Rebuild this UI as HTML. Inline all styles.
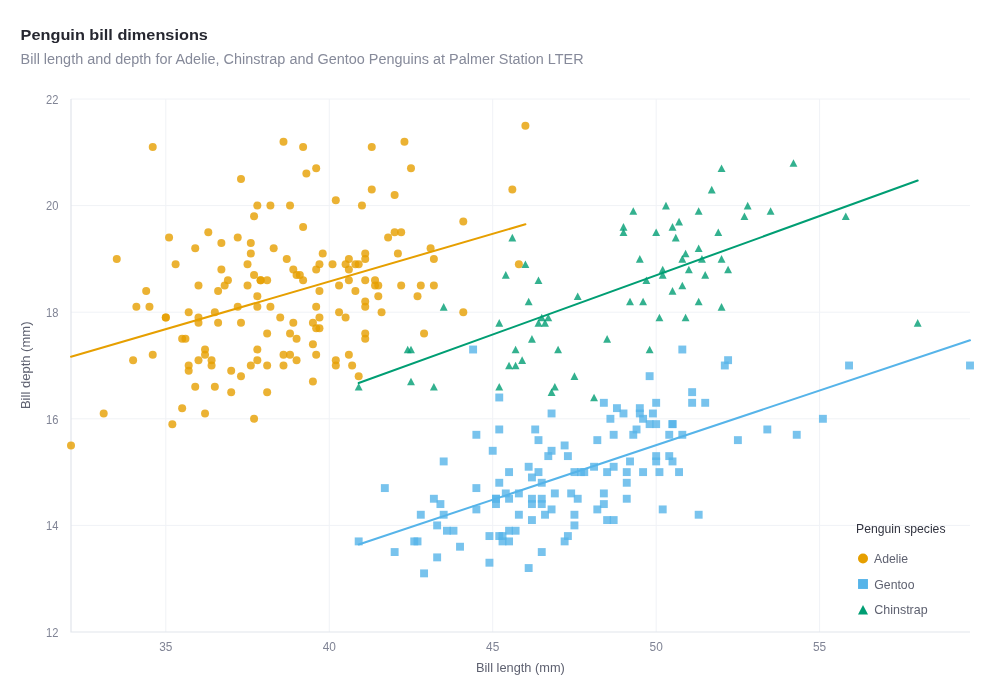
<!DOCTYPE html>
<html lang="en"><head><meta charset="utf-8"><title>Penguin bill dimensions</title>
<style>html,body{margin:0;padding:0;background:#fff}svg{display:block}</style></head>
<body>
<svg width="990" height="696" viewBox="0 0 990 696">
<rect width="990" height="696" fill="#ffffff"/>
<path d="M165.8 99.0V632.0M329.26 99.0V632.0M492.71 99.0V632.0M656.17 99.0V632.0M819.62 99.0V632.0M71.0 525.4H970.0M71.0 418.8H970.0M71.0 312.2H970.0M71.0 205.6H970.0M71.0 99H970.0" stroke="#f0f2f6" stroke-width="1" fill="none"/>
<path d="M71.0 99.0V632.0H970.0" stroke="#e2e5ec" stroke-width="1.2" fill="none"/>
<g font-family="Liberation Sans, sans-serif" font-size="12" fill="#808495">
<text x="58.4" y="636.8" text-anchor="end" textLength="12.4" lengthAdjust="spacingAndGlyphs">12</text>
<text x="58.4" y="530.2" text-anchor="end" textLength="12.4" lengthAdjust="spacingAndGlyphs">14</text>
<text x="58.4" y="423.6" text-anchor="end" textLength="12.4" lengthAdjust="spacingAndGlyphs">16</text>
<text x="58.4" y="317" text-anchor="end" textLength="12.4" lengthAdjust="spacingAndGlyphs">18</text>
<text x="58.4" y="210.4" text-anchor="end" textLength="12.4" lengthAdjust="spacingAndGlyphs">20</text>
<text x="58.4" y="103.8" text-anchor="end" textLength="12.4" lengthAdjust="spacingAndGlyphs">22</text>
<text x="165.8" y="650.5" text-anchor="middle" textLength="13.2" lengthAdjust="spacingAndGlyphs">35</text>
<text x="329.26" y="650.5" text-anchor="middle" textLength="13.2" lengthAdjust="spacingAndGlyphs">40</text>
<text x="492.71" y="650.5" text-anchor="middle" textLength="13.2" lengthAdjust="spacingAndGlyphs">45</text>
<text x="656.17" y="650.5" text-anchor="middle" textLength="13.2" lengthAdjust="spacingAndGlyphs">50</text>
<text x="819.62" y="650.5" text-anchor="middle" textLength="13.2" lengthAdjust="spacingAndGlyphs">55</text>
</g>
<g font-family="Liberation Sans, sans-serif" font-size="13.1" fill="#5e6170">
<text x="520.4" y="672" text-anchor="middle" textLength="88.8" lengthAdjust="spacingAndGlyphs">Bill length (mm)</text>
<text transform="translate(29.6 365.3) rotate(-90)" text-anchor="middle" textLength="87.6" lengthAdjust="spacingAndGlyphs">Bill depth (mm)</text>
</g>
<text x="20.6" y="40" font-family="Liberation Sans, sans-serif" font-weight="bold" font-size="15.4" fill="#262730" textLength="187.3" lengthAdjust="spacingAndGlyphs">Penguin bill dimensions</text>
<text x="20.6" y="64.3" font-family="Liberation Sans, sans-serif" font-size="14.9" fill="#868a9a" textLength="563" lengthAdjust="spacingAndGlyphs">Bill length and depth for Adelie, Chinstrap and Gentoo Penguins at Palmer Station LTER</text>
<g fill="#E69F00" fill-opacity="0.8">
<circle cx="152.73" cy="146.97" r="4.0"/>
<circle cx="116.77" cy="258.9" r="4.0"/>
<circle cx="169.07" cy="237.58" r="4.0"/>
<circle cx="208.3" cy="232.25" r="4.0"/>
<circle cx="221.38" cy="242.91" r="4.0"/>
<circle cx="195.23" cy="248.24" r="4.0"/>
<circle cx="175.61" cy="264.23" r="4.0"/>
<circle cx="221.38" cy="269.56" r="4.0"/>
<circle cx="198.49" cy="285.55" r="4.0"/>
<circle cx="218.11" cy="290.88" r="4.0"/>
<circle cx="224.65" cy="285.55" r="4.0"/>
<circle cx="146.19" cy="290.88" r="4.0"/>
<circle cx="136.38" cy="306.87" r="4.0"/>
<circle cx="149.46" cy="306.87" r="4.0"/>
<circle cx="188.69" cy="312.2" r="4.0"/>
<circle cx="214.84" cy="312.2" r="4.0"/>
<circle cx="165.8" cy="317.53" r="4.0"/>
<circle cx="165.8" cy="317.53" r="4.0"/>
<circle cx="198.49" cy="317.53" r="4.0"/>
<circle cx="198.49" cy="322.86" r="4.0"/>
<circle cx="218.11" cy="322.86" r="4.0"/>
<circle cx="182.15" cy="338.85" r="4.0"/>
<circle cx="185.42" cy="338.85" r="4.0"/>
<circle cx="205.03" cy="349.51" r="4.0"/>
<circle cx="205.03" cy="354.84" r="4.0"/>
<circle cx="198.49" cy="360.17" r="4.0"/>
<circle cx="211.57" cy="360.17" r="4.0"/>
<circle cx="211.57" cy="365.5" r="4.0"/>
<circle cx="188.69" cy="365.5" r="4.0"/>
<circle cx="188.69" cy="370.83" r="4.0"/>
<circle cx="152.73" cy="354.84" r="4.0"/>
<circle cx="133.11" cy="360.17" r="4.0"/>
<circle cx="195.23" cy="386.82" r="4.0"/>
<circle cx="214.84" cy="386.82" r="4.0"/>
<circle cx="182.15" cy="408.14" r="4.0"/>
<circle cx="205.03" cy="413.47" r="4.0"/>
<circle cx="103.69" cy="413.47" r="4.0"/>
<circle cx="172.34" cy="424.13" r="4.0"/>
<circle cx="71" cy="445.45" r="4.0"/>
<circle cx="283.49" cy="141.64" r="4.0"/>
<circle cx="303.11" cy="146.97" r="4.0"/>
<circle cx="371.76" cy="146.97" r="4.0"/>
<circle cx="316.18" cy="168.29" r="4.0"/>
<circle cx="306.37" cy="173.62" r="4.0"/>
<circle cx="240.99" cy="178.95" r="4.0"/>
<circle cx="371.76" cy="189.61" r="4.0"/>
<circle cx="335.8" cy="200.27" r="4.0"/>
<circle cx="257.34" cy="205.6" r="4.0"/>
<circle cx="270.41" cy="205.6" r="4.0"/>
<circle cx="290.03" cy="205.6" r="4.0"/>
<circle cx="361.95" cy="205.6" r="4.0"/>
<circle cx="254.07" cy="216.26" r="4.0"/>
<circle cx="303.11" cy="226.92" r="4.0"/>
<circle cx="237.72" cy="237.58" r="4.0"/>
<circle cx="250.8" cy="242.91" r="4.0"/>
<circle cx="273.68" cy="248.24" r="4.0"/>
<circle cx="250.8" cy="253.57" r="4.0"/>
<circle cx="322.72" cy="253.57" r="4.0"/>
<circle cx="286.76" cy="258.9" r="4.0"/>
<circle cx="247.53" cy="264.23" r="4.0"/>
<circle cx="319.45" cy="264.23" r="4.0"/>
<circle cx="332.53" cy="264.23" r="4.0"/>
<circle cx="348.87" cy="258.9" r="4.0"/>
<circle cx="365.22" cy="253.57" r="4.0"/>
<circle cx="365.22" cy="258.9" r="4.0"/>
<circle cx="345.6" cy="264.23" r="4.0"/>
<circle cx="355.41" cy="264.23" r="4.0"/>
<circle cx="358.68" cy="264.23" r="4.0"/>
<circle cx="348.87" cy="269.56" r="4.0"/>
<circle cx="316.18" cy="269.56" r="4.0"/>
<circle cx="293.3" cy="269.56" r="4.0"/>
<circle cx="296.57" cy="274.89" r="4.0"/>
<circle cx="299.84" cy="274.89" r="4.0"/>
<circle cx="303.11" cy="280.22" r="4.0"/>
<circle cx="254.07" cy="274.89" r="4.0"/>
<circle cx="260.61" cy="280.22" r="4.0"/>
<circle cx="260.61" cy="280.22" r="4.0"/>
<circle cx="267.15" cy="280.22" r="4.0"/>
<circle cx="227.92" cy="280.22" r="4.0"/>
<circle cx="247.53" cy="285.55" r="4.0"/>
<circle cx="257.34" cy="296.21" r="4.0"/>
<circle cx="319.45" cy="290.88" r="4.0"/>
<circle cx="339.07" cy="285.55" r="4.0"/>
<circle cx="348.87" cy="280.22" r="4.0"/>
<circle cx="365.22" cy="280.22" r="4.0"/>
<circle cx="375.03" cy="280.22" r="4.0"/>
<circle cx="375.03" cy="285.55" r="4.0"/>
<circle cx="378.29" cy="285.55" r="4.0"/>
<circle cx="355.41" cy="290.88" r="4.0"/>
<circle cx="378.29" cy="296.21" r="4.0"/>
<circle cx="365.22" cy="301.54" r="4.0"/>
<circle cx="365.22" cy="306.87" r="4.0"/>
<circle cx="237.72" cy="306.87" r="4.0"/>
<circle cx="257.34" cy="306.87" r="4.0"/>
<circle cx="270.41" cy="306.87" r="4.0"/>
<circle cx="316.18" cy="306.87" r="4.0"/>
<circle cx="339.07" cy="312.2" r="4.0"/>
<circle cx="381.56" cy="312.2" r="4.0"/>
<circle cx="280.22" cy="317.53" r="4.0"/>
<circle cx="319.45" cy="317.53" r="4.0"/>
<circle cx="345.6" cy="317.53" r="4.0"/>
<circle cx="240.99" cy="322.86" r="4.0"/>
<circle cx="293.3" cy="322.86" r="4.0"/>
<circle cx="312.91" cy="322.86" r="4.0"/>
<circle cx="316.18" cy="328.19" r="4.0"/>
<circle cx="319.45" cy="328.19" r="4.0"/>
<circle cx="267.15" cy="333.52" r="4.0"/>
<circle cx="290.03" cy="333.52" r="4.0"/>
<circle cx="296.57" cy="338.85" r="4.0"/>
<circle cx="365.22" cy="333.52" r="4.0"/>
<circle cx="365.22" cy="338.85" r="4.0"/>
<circle cx="312.91" cy="344.18" r="4.0"/>
<circle cx="257.34" cy="349.51" r="4.0"/>
<circle cx="283.49" cy="354.84" r="4.0"/>
<circle cx="290.03" cy="354.84" r="4.0"/>
<circle cx="316.18" cy="354.84" r="4.0"/>
<circle cx="348.87" cy="354.84" r="4.0"/>
<circle cx="257.34" cy="360.17" r="4.0"/>
<circle cx="296.57" cy="360.17" r="4.0"/>
<circle cx="335.8" cy="360.17" r="4.0"/>
<circle cx="250.8" cy="365.5" r="4.0"/>
<circle cx="267.15" cy="365.5" r="4.0"/>
<circle cx="283.49" cy="365.5" r="4.0"/>
<circle cx="335.8" cy="365.5" r="4.0"/>
<circle cx="352.14" cy="365.5" r="4.0"/>
<circle cx="231.19" cy="370.83" r="4.0"/>
<circle cx="240.99" cy="376.16" r="4.0"/>
<circle cx="358.68" cy="376.16" r="4.0"/>
<circle cx="312.91" cy="381.49" r="4.0"/>
<circle cx="231.19" cy="392.15" r="4.0"/>
<circle cx="267.15" cy="392.15" r="4.0"/>
<circle cx="254.07" cy="418.8" r="4.0"/>
<circle cx="404.45" cy="141.64" r="4.0"/>
<circle cx="410.99" cy="168.29" r="4.0"/>
<circle cx="394.64" cy="194.94" r="4.0"/>
<circle cx="525.4" cy="125.65" r="4.0"/>
<circle cx="512.33" cy="189.61" r="4.0"/>
<circle cx="463.29" cy="221.59" r="4.0"/>
<circle cx="394.64" cy="232.25" r="4.0"/>
<circle cx="401.18" cy="232.25" r="4.0"/>
<circle cx="388.1" cy="237.58" r="4.0"/>
<circle cx="430.6" cy="248.24" r="4.0"/>
<circle cx="397.91" cy="253.57" r="4.0"/>
<circle cx="433.87" cy="258.9" r="4.0"/>
<circle cx="518.87" cy="264.23" r="4.0"/>
<circle cx="401.18" cy="285.55" r="4.0"/>
<circle cx="420.79" cy="285.55" r="4.0"/>
<circle cx="433.87" cy="285.55" r="4.0"/>
<circle cx="417.52" cy="296.21" r="4.0"/>
<circle cx="463.29" cy="312.2" r="4.0"/>
<circle cx="424.06" cy="333.52" r="4.0"/>
</g>
<g fill="#56B4E9" fill-opacity="0.8">
<rect x="469.15" y="345.56" width="7.9" height="7.9"/>
<rect x="495.3" y="393.53" width="7.9" height="7.9"/>
<rect x="439.73" y="457.49" width="7.9" height="7.9"/>
<rect x="380.88" y="484.14" width="7.9" height="7.9"/>
<rect x="429.92" y="494.8" width="7.9" height="7.9"/>
<rect x="436.46" y="500.13" width="7.9" height="7.9"/>
<rect x="416.84" y="510.79" width="7.9" height="7.9"/>
<rect x="439.73" y="510.79" width="7.9" height="7.9"/>
<rect x="599.91" y="398.86" width="7.9" height="7.9"/>
<rect x="612.99" y="404.19" width="7.9" height="7.9"/>
<rect x="619.53" y="409.52" width="7.9" height="7.9"/>
<rect x="635.87" y="404.19" width="7.9" height="7.9"/>
<rect x="635.87" y="409.52" width="7.9" height="7.9"/>
<rect x="639.14" y="414.85" width="7.9" height="7.9"/>
<rect x="652.22" y="398.86" width="7.9" height="7.9"/>
<rect x="648.95" y="409.52" width="7.9" height="7.9"/>
<rect x="645.68" y="420.18" width="7.9" height="7.9"/>
<rect x="652.22" y="420.18" width="7.9" height="7.9"/>
<rect x="668.56" y="420.18" width="7.9" height="7.9"/>
<rect x="668.56" y="420.18" width="7.9" height="7.9"/>
<rect x="606.45" y="414.85" width="7.9" height="7.9"/>
<rect x="632.6" y="425.51" width="7.9" height="7.9"/>
<rect x="629.33" y="430.84" width="7.9" height="7.9"/>
<rect x="609.72" y="430.84" width="7.9" height="7.9"/>
<rect x="593.37" y="436.17" width="7.9" height="7.9"/>
<rect x="665.29" y="430.84" width="7.9" height="7.9"/>
<rect x="678.37" y="430.84" width="7.9" height="7.9"/>
<rect x="688.18" y="388.2" width="7.9" height="7.9"/>
<rect x="688.18" y="398.86" width="7.9" height="7.9"/>
<rect x="652.22" y="452.16" width="7.9" height="7.9"/>
<rect x="652.22" y="457.49" width="7.9" height="7.9"/>
<rect x="665.29" y="452.16" width="7.9" height="7.9"/>
<rect x="668.56" y="457.49" width="7.9" height="7.9"/>
<rect x="626.06" y="457.49" width="7.9" height="7.9"/>
<rect x="609.72" y="462.82" width="7.9" height="7.9"/>
<rect x="590.1" y="462.82" width="7.9" height="7.9"/>
<rect x="678.37" y="345.56" width="7.9" height="7.9"/>
<rect x="645.68" y="372.21" width="7.9" height="7.9"/>
<rect x="701.25" y="398.86" width="7.9" height="7.9"/>
<rect x="547.61" y="409.52" width="7.9" height="7.9"/>
<rect x="560.68" y="441.5" width="7.9" height="7.9"/>
<rect x="547.61" y="446.83" width="7.9" height="7.9"/>
<rect x="544.34" y="452.16" width="7.9" height="7.9"/>
<rect x="563.95" y="452.16" width="7.9" height="7.9"/>
<rect x="495.3" y="425.51" width="7.9" height="7.9"/>
<rect x="472.42" y="430.84" width="7.9" height="7.9"/>
<rect x="531.26" y="425.51" width="7.9" height="7.9"/>
<rect x="534.53" y="436.17" width="7.9" height="7.9"/>
<rect x="488.76" y="446.83" width="7.9" height="7.9"/>
<rect x="524.72" y="462.82" width="7.9" height="7.9"/>
<rect x="505.11" y="468.15" width="7.9" height="7.9"/>
<rect x="534.53" y="468.15" width="7.9" height="7.9"/>
<rect x="527.99" y="473.48" width="7.9" height="7.9"/>
<rect x="495.3" y="478.81" width="7.9" height="7.9"/>
<rect x="537.8" y="478.81" width="7.9" height="7.9"/>
<rect x="472.42" y="484.14" width="7.9" height="7.9"/>
<rect x="501.84" y="489.47" width="7.9" height="7.9"/>
<rect x="514.92" y="489.47" width="7.9" height="7.9"/>
<rect x="550.88" y="489.47" width="7.9" height="7.9"/>
<rect x="492.03" y="494.8" width="7.9" height="7.9"/>
<rect x="492.03" y="494.8" width="7.9" height="7.9"/>
<rect x="492.03" y="500.13" width="7.9" height="7.9"/>
<rect x="505.11" y="494.8" width="7.9" height="7.9"/>
<rect x="527.99" y="494.8" width="7.9" height="7.9"/>
<rect x="527.99" y="500.13" width="7.9" height="7.9"/>
<rect x="537.8" y="494.8" width="7.9" height="7.9"/>
<rect x="537.8" y="500.13" width="7.9" height="7.9"/>
<rect x="547.61" y="505.46" width="7.9" height="7.9"/>
<rect x="472.42" y="505.46" width="7.9" height="7.9"/>
<rect x="514.92" y="510.79" width="7.9" height="7.9"/>
<rect x="541.07" y="510.79" width="7.9" height="7.9"/>
<rect x="433.19" y="521.45" width="7.9" height="7.9"/>
<rect x="443" y="526.78" width="7.9" height="7.9"/>
<rect x="449.53" y="526.78" width="7.9" height="7.9"/>
<rect x="354.73" y="537.44" width="7.9" height="7.9"/>
<rect x="410.3" y="537.44" width="7.9" height="7.9"/>
<rect x="413.57" y="537.44" width="7.9" height="7.9"/>
<rect x="390.69" y="548.1" width="7.9" height="7.9"/>
<rect x="456.07" y="542.77" width="7.9" height="7.9"/>
<rect x="433.19" y="553.43" width="7.9" height="7.9"/>
<rect x="485.49" y="532.11" width="7.9" height="7.9"/>
<rect x="485.49" y="558.76" width="7.9" height="7.9"/>
<rect x="420.11" y="569.42" width="7.9" height="7.9"/>
<rect x="495.3" y="532.11" width="7.9" height="7.9"/>
<rect x="498.57" y="532.11" width="7.9" height="7.9"/>
<rect x="498.57" y="537.44" width="7.9" height="7.9"/>
<rect x="567.22" y="489.47" width="7.9" height="7.9"/>
<rect x="573.76" y="494.8" width="7.9" height="7.9"/>
<rect x="527.99" y="516.12" width="7.9" height="7.9"/>
<rect x="570.49" y="510.79" width="7.9" height="7.9"/>
<rect x="570.49" y="521.45" width="7.9" height="7.9"/>
<rect x="505.11" y="526.78" width="7.9" height="7.9"/>
<rect x="511.65" y="526.78" width="7.9" height="7.9"/>
<rect x="505.11" y="537.44" width="7.9" height="7.9"/>
<rect x="563.95" y="532.11" width="7.9" height="7.9"/>
<rect x="560.68" y="537.44" width="7.9" height="7.9"/>
<rect x="537.8" y="548.1" width="7.9" height="7.9"/>
<rect x="524.72" y="564.09" width="7.9" height="7.9"/>
<rect x="570.49" y="468.15" width="7.9" height="7.9"/>
<rect x="577.03" y="468.15" width="7.9" height="7.9"/>
<rect x="580.3" y="468.15" width="7.9" height="7.9"/>
<rect x="603.18" y="468.15" width="7.9" height="7.9"/>
<rect x="622.8" y="468.15" width="7.9" height="7.9"/>
<rect x="639.14" y="468.15" width="7.9" height="7.9"/>
<rect x="655.49" y="468.15" width="7.9" height="7.9"/>
<rect x="675.1" y="468.15" width="7.9" height="7.9"/>
<rect x="622.8" y="478.81" width="7.9" height="7.9"/>
<rect x="599.91" y="489.47" width="7.9" height="7.9"/>
<rect x="622.8" y="494.8" width="7.9" height="7.9"/>
<rect x="599.91" y="500.13" width="7.9" height="7.9"/>
<rect x="593.37" y="505.46" width="7.9" height="7.9"/>
<rect x="603.18" y="516.12" width="7.9" height="7.9"/>
<rect x="609.72" y="516.12" width="7.9" height="7.9"/>
<rect x="658.76" y="505.46" width="7.9" height="7.9"/>
<rect x="694.72" y="510.79" width="7.9" height="7.9"/>
<rect x="724.14" y="356.22" width="7.9" height="7.9"/>
<rect x="720.87" y="361.55" width="7.9" height="7.9"/>
<rect x="845.09" y="361.55" width="7.9" height="7.9"/>
<rect x="818.94" y="414.85" width="7.9" height="7.9"/>
<rect x="763.37" y="425.51" width="7.9" height="7.9"/>
<rect x="792.79" y="430.84" width="7.9" height="7.9"/>
<rect x="733.94" y="436.17" width="7.9" height="7.9"/>
<rect x="966.05" y="361.55" width="7.9" height="7.9"/>
</g>
<g fill="#009E73" fill-opacity="0.8">
<path d="M358.68 383.02L354.73 390.62H362.63Z"/>
<path d="M512.33 233.78L508.38 241.38H516.28Z"/>
<path d="M525.4 260.43L521.45 268.03H529.35Z"/>
<path d="M505.79 271.09L501.84 278.69H509.74Z"/>
<path d="M538.48 276.42L534.53 284.02H542.43Z"/>
<path d="M528.67 297.74L524.72 305.34H532.62Z"/>
<path d="M443.68 303.07L439.73 310.67H447.63Z"/>
<path d="M499.25 319.06L495.3 326.66H503.2Z"/>
<path d="M407.72 345.71L403.77 353.31H411.67Z"/>
<path d="M410.99 345.71L407.04 353.31H414.94Z"/>
<path d="M410.99 377.69L407.04 385.29H414.94Z"/>
<path d="M433.87 383.02L429.92 390.62H437.82Z"/>
<path d="M499.25 383.02L495.3 390.62H503.2Z"/>
<path d="M531.94 335.05L527.99 342.65H535.89Z"/>
<path d="M515.6 345.71L511.65 353.31H519.55Z"/>
<path d="M522.13 356.37L518.18 363.97H526.08Z"/>
<path d="M509.06 361.7L505.11 369.3H513.01Z"/>
<path d="M515.6 361.7L511.65 369.3H519.55Z"/>
<path d="M541.75 313.73L537.8 321.33H545.7Z"/>
<path d="M548.29 313.73L544.34 321.33H552.24Z"/>
<path d="M538.48 319.06L534.53 326.66H542.43Z"/>
<path d="M545.02 319.06L541.07 326.66H548.97Z"/>
<path d="M558.09 345.71L554.14 353.31H562.04Z"/>
<path d="M577.71 292.41L573.76 300.01H581.66Z"/>
<path d="M665.97 201.8L662.02 209.4H669.92Z"/>
<path d="M633.28 207.13L629.33 214.73H637.23Z"/>
<path d="M698.67 207.13L694.72 214.73H702.62Z"/>
<path d="M679.05 217.79L675.1 225.39H683Z"/>
<path d="M623.48 223.12L619.53 230.72H627.43Z"/>
<path d="M623.48 228.45L619.53 236.05H627.43Z"/>
<path d="M672.51 223.12L668.56 230.72H676.46Z"/>
<path d="M656.17 228.45L652.22 236.05H660.12Z"/>
<path d="M675.78 233.78L671.83 241.38H679.73Z"/>
<path d="M698.67 244.44L694.72 252.04H702.62Z"/>
<path d="M685.59 249.77L681.64 257.37H689.54Z"/>
<path d="M682.32 255.1L678.37 262.7H686.27Z"/>
<path d="M701.93 255.1L697.98 262.7H705.88Z"/>
<path d="M639.82 255.1L635.87 262.7H643.77Z"/>
<path d="M662.71 265.76L658.76 273.36H666.66Z"/>
<path d="M662.71 271.09L658.76 278.69H666.66Z"/>
<path d="M688.86 265.76L684.91 273.36H692.81Z"/>
<path d="M705.2 271.09L701.25 278.69H709.15Z"/>
<path d="M646.36 276.42L642.41 284.02H650.31Z"/>
<path d="M682.32 281.75L678.37 289.35H686.27Z"/>
<path d="M672.51 287.08L668.56 294.68H676.46Z"/>
<path d="M630.01 297.74L626.06 305.34H633.96Z"/>
<path d="M643.09 297.74L639.14 305.34H647.04Z"/>
<path d="M698.67 297.74L694.72 305.34H702.62Z"/>
<path d="M659.44 313.73L655.49 321.33H663.39Z"/>
<path d="M685.59 313.73L681.64 321.33H689.54Z"/>
<path d="M607.13 335.05L603.18 342.65H611.08Z"/>
<path d="M574.44 372.36L570.49 379.96H578.39Z"/>
<path d="M554.83 383.02L550.88 390.62H558.78Z"/>
<path d="M551.56 388.35L547.61 395.95H555.51Z"/>
<path d="M594.05 393.68L590.1 401.28H598Z"/>
<path d="M649.63 345.71L645.68 353.31H653.58Z"/>
<path d="M721.55 164.49L717.6 172.09H725.5Z"/>
<path d="M793.47 159.16L789.52 166.76H797.42Z"/>
<path d="M711.74 185.81L707.79 193.41H715.69Z"/>
<path d="M747.7 201.8L743.75 209.4H751.65Z"/>
<path d="M770.59 207.13L766.64 214.73H774.54Z"/>
<path d="M744.43 212.46L740.48 220.06H748.38Z"/>
<path d="M845.77 212.46L841.82 220.06H849.72Z"/>
<path d="M718.28 228.45L714.33 236.05H722.23Z"/>
<path d="M721.55 255.1L717.6 262.7H725.5Z"/>
<path d="M728.09 265.76L724.14 273.36H732.04Z"/>
<path d="M721.55 303.07L717.6 310.67H725.5Z"/>
<path d="M917.69 319.06L913.74 326.66H921.64Z"/>
</g>
<path d="M71 356.82L525.4 224.33" stroke="#E69F00" stroke-width="2" stroke-linecap="round" fill="none"/>
<path d="M358.68 544.47L970 340.3" stroke="#56B4E9" stroke-width="2" stroke-linecap="round" fill="none"/>
<path d="M358.68 383.05L917.69 180.52" stroke="#009E73" stroke-width="2" stroke-linecap="round" fill="none"/>
<text x="856" y="532.8" font-family="Liberation Sans, sans-serif" font-size="13.1" fill="#31333f" textLength="89.5" lengthAdjust="spacingAndGlyphs">Penguin species</text>
<circle cx="863" cy="558.5" r="5" fill="#E69F00"/>
<rect x="858.05" y="579.05" width="9.9" height="9.9" fill="#56B4E9"/>
<path d="M863 605L858 614.5H868Z" fill="#009E73"/>
<g font-family="Liberation Sans, sans-serif" font-size="13.1" fill="#5e6170">
<text x="874" y="563" textLength="34" lengthAdjust="spacingAndGlyphs">Adelie</text>
<text x="874.3" y="588.5" textLength="40.2" lengthAdjust="spacingAndGlyphs">Gentoo</text>
<text x="874.3" y="614.1" textLength="53.3" lengthAdjust="spacingAndGlyphs">Chinstrap</text>
</g>
</svg>
</body></html>
